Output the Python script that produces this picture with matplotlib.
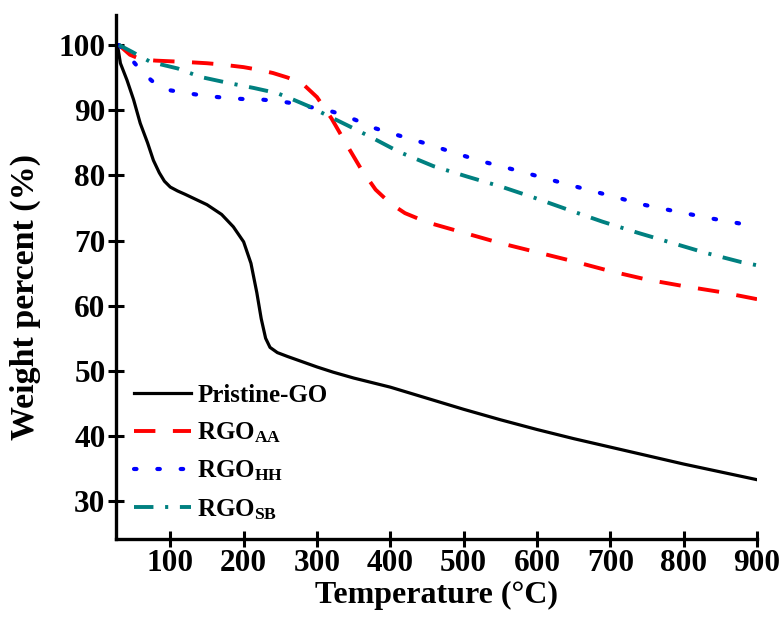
import matplotlib
matplotlib.use('Agg')
import matplotlib.pyplot as plt

# TGA curves
go_t = [28, 32, 41, 50, 59, 69, 77, 85, 92, 100, 110, 120, 150, 170, 186, 200, 210, 218, 224, 230,
        236, 246, 260, 280, 300, 322, 350, 400, 450, 500, 550, 600, 650, 700, 750, 800, 850, 900]
go_w = [100, 97.2, 94.6, 91.6, 88.0, 85.0, 82.3, 80.4, 79.1, 78.2, 77.6, 77.1, 75.5, 74.0, 72.1,
        69.8, 66.5, 62.0, 58.0, 55.0, 53.6, 52.8, 52.2, 51.4, 50.6, 49.8, 48.9, 47.5, 45.8, 44.1,
        42.5, 41.0, 39.6, 38.3, 37.0, 35.7, 34.5, 33.3]

aa_t = [30, 45, 60, 80, 100, 120, 150, 170, 200, 220, 240, 260, 280, 300, 320, 340, 360, 380,
        400, 420, 450, 500, 550, 600, 650, 700, 750, 800, 850, 900]
aa_w = [100, 98.5, 97.8, 97.6, 97.5, 97.4, 97.2, 97.0, 96.6, 96.2, 95.7, 95.0, 94.1, 92.0, 88.7,
        84.8, 81.0, 77.8, 75.7, 74.2, 72.8, 71.2, 69.6, 68.2, 66.8, 65.3, 64.0, 63.0, 62.1, 61.0]

hh_t = [30, 40, 50, 63, 78, 97, 123, 148, 174, 200, 227, 253, 270, 290, 314, 335, 357, 377,
        400, 445, 489, 523, 571, 616, 662, 709, 745, 792, 837, 887, 900]
hh_w = [100, 98.8, 97.4, 95.7, 94.2, 93.1, 92.6, 92.2, 91.9, 91.7, 91.6, 91.3, 91.0, 90.5, 90.0,
        89.3, 88.3, 87.3, 86.5, 85.0, 83.4, 82.2, 80.8, 79.4, 78.0, 76.6, 75.5, 74.4, 73.4, 72.4, 72.1]

sb_t = [30, 47, 73, 110, 141, 178, 214, 246, 268, 291, 312, 341, 373, 400, 414, 459, 505,
        553, 598, 643, 689, 737, 782, 830, 878, 900]
sb_w = [100, 99.0, 97.4, 96.4, 95.1, 94.2, 93.4, 92.6, 91.6, 90.5, 89.3, 87.7, 85.9, 84.3, 83.5,
        81.4, 79.8, 78.2, 76.5, 74.7, 72.9, 71.2, 69.7, 68.1, 66.7, 66.2]

xticks = [100, 200, 300, 400, 500, 600, 700, 800, 900]
yticks = [30, 40, 50, 60, 70, 80, 90, 100]

plt.rcParams['font.family'] = ['Liberation Serif', 'DejaVu Serif']
plt.rcParams['font.weight'] = 'bold'
plt.rcParams['mathtext.fontset'] = 'custom'
plt.rcParams['mathtext.rm'] = 'Liberation Serif:bold'
plt.rcParams['mathtext.bf'] = 'Liberation Serif:bold'
plt.rcParams['mathtext.it'] = 'Liberation Serif:bold:italic'
plt.rcParams['mathtext.default'] = 'rm'

fig = plt.figure(figsize=(7.84, 6.21), dpi=100)
ax = fig.add_axes([116 / 784, 1 - 539 / 621, (757 - 116) / 784, (539 - 15) / 621])

ax.plot(go_t, go_w, color='black', lw=2.3, label='Pristine-GO')
ax.plot(aa_t, aa_w, color='#ff0000', lw=2.8, dashes=(5.5, 4.5), label='RGO$_{AA}$')
ax.plot(hh_t, hh_w, color='#0000ff', lw=3.0, dashes=(0.6, 5), dash_capstyle='round', label='RGO$_{HH}$')
ax.plot(sb_t, sb_w, color='#008080', lw=2.8, dashes=(5, 3, 0.8, 3), label='RGO$_{SB}$')

ax.set_xlim(26, 900)
ax.set_ylim(24.2, 104.6)
ax.set_xticks(xticks)
ax.set_yticks(yticks)
ax.tick_params(direction='inout', length=12, width=2.2, labelsize=22.5, pad=1.5)
for s in ['top', 'right']:
    ax.spines[s].set_visible(False)
for s in ['left', 'bottom']:
    ax.spines[s].set_linewidth(2.4)

ax.set_xlabel('Temperature (°C)', fontsize=23, fontweight='bold')
ax.set_ylabel('Weight percent (%)', fontsize=24.5, fontweight='bold')
ax.xaxis.set_label_coords(0.5, -0.08)
ax.yaxis.set_label_coords(-0.117, 0.462)

ax.legend(loc='lower left', bbox_to_anchor=(0.012, 0.014), frameon=False, fontsize=18,
          handlelength=2.3, handletextpad=0.25, labelspacing=0.55, borderaxespad=0)

fig.savefig('out.png', dpi=100)
